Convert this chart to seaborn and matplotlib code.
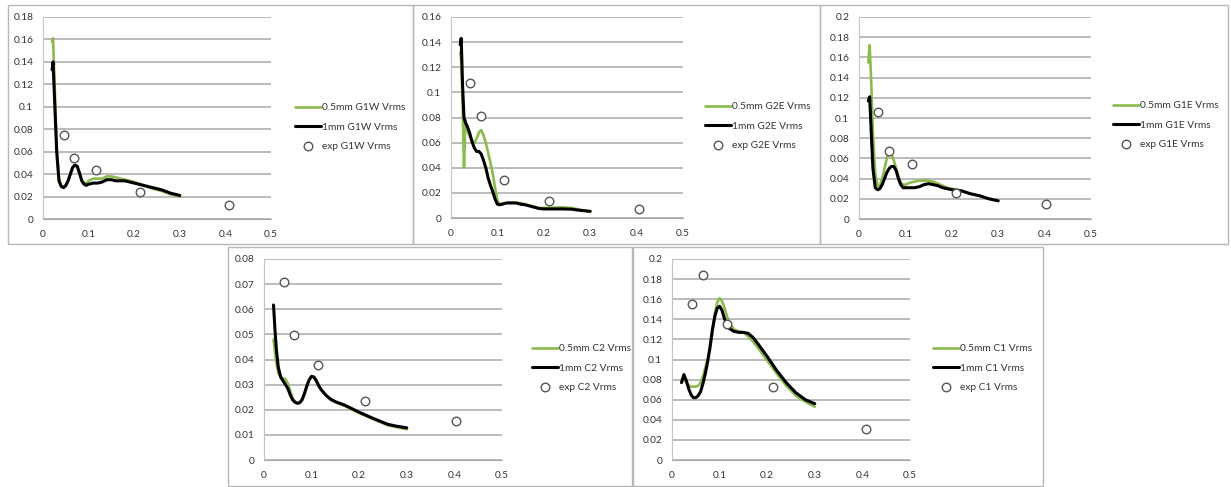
import numpy as np
import pandas as pd
import seaborn as sns
import matplotlib.pyplot as plt
from matplotlib.patches import Rectangle
from matplotlib.ticker import FuncFormatter, MultipleLocator

# ---- data ----
# G1W
g1w_x = [0.020, 0.022, 0.026, 0.030, 0.035, 0.040, 0.045, 0.050, 0.055, 0.060,
         0.065, 0.070, 0.075, 0.080, 0.085, 0.090, 0.095, 0.100, 0.110, 0.120,
         0.130, 0.140, 0.150, 0.160, 0.170, 0.180, 0.190, 0.200, 0.220, 0.240,
         0.260, 0.280, 0.300]
g1w_fine = [0.158, 0.161, 0.115, 0.065, 0.036, 0.030, 0.028, 0.029, 0.034, 0.040,
            0.046, 0.048, 0.047, 0.041, 0.035, 0.032, 0.032, 0.034, 0.036, 0.036,
            0.036, 0.038, 0.038, 0.037, 0.036, 0.035, 0.034, 0.033, 0.030, 0.027,
            0.025, 0.022, 0.020]
g1w_coarse = [0.133, 0.140, 0.100, 0.060, 0.034, 0.029, 0.028, 0.030, 0.034, 0.040,
              0.046, 0.048, 0.047, 0.041, 0.034, 0.031, 0.030, 0.031, 0.032, 0.032,
              0.033, 0.035, 0.035, 0.034, 0.034, 0.034, 0.033, 0.032, 0.030, 0.028,
              0.026, 0.023, 0.021]
g1w_exp_x = [0.045, 0.069, 0.117, 0.213, 0.407]
g1w_exp = [0.0748, 0.0548, 0.0438, 0.0241, 0.0125]

# G2E
g2e_x = [0.020, 0.022, 0.025, 0.028, 0.031, 0.035, 0.040, 0.045, 0.050, 0.055,
         0.060, 0.065, 0.070, 0.075, 0.080, 0.085, 0.090, 0.095, 0.100, 0.105,
         0.110, 0.120, 0.130, 0.140, 0.150, 0.160, 0.170, 0.180, 0.190, 0.200,
         0.220, 0.240, 0.260, 0.280, 0.300]
g2e_fine = [0.132, 0.125, 0.090, 0.040, 0.078, 0.070, 0.065, 0.062, 0.060, 0.063,
            0.068, 0.070, 0.066, 0.060, 0.052, 0.044, 0.035, 0.024, 0.014, 0.011,
            0.011, 0.012, 0.012, 0.012, 0.012, 0.011, 0.010, 0.009, 0.008, 0.008,
            0.0082, 0.0085, 0.008, 0.0065, 0.0053]
g2e_coarse = [0.138, 0.143, 0.105, 0.080, 0.076, 0.073, 0.068, 0.061, 0.056, 0.053,
              0.053, 0.051, 0.046, 0.040, 0.032, 0.026, 0.021, 0.015, 0.011, 0.0105,
              0.011, 0.012, 0.012, 0.012, 0.011, 0.0105, 0.0095, 0.0085, 0.0075, 0.0072,
              0.0072, 0.0072, 0.0070, 0.0060, 0.0053]
g2e_exp_x = [0.042, 0.065, 0.115, 0.212, 0.405]
g2e_exp = [0.1075, 0.0808, 0.0299, 0.0138, 0.0072]

# G1E
g1e_x = [0.020, 0.023, 0.026, 0.030, 0.035, 0.040, 0.045, 0.050, 0.055, 0.060,
         0.065, 0.070, 0.075, 0.080, 0.085, 0.090, 0.095, 0.100, 0.110, 0.120,
         0.130, 0.140, 0.150, 0.160, 0.170, 0.180, 0.190, 0.200, 0.220, 0.240,
         0.260, 0.280, 0.300]
g1e_fine = [0.155, 0.172, 0.140, 0.085, 0.045, 0.033, 0.033, 0.040, 0.050, 0.060,
            0.066, 0.064, 0.058, 0.050, 0.042, 0.036, 0.034, 0.034, 0.036, 0.037,
            0.038, 0.038, 0.038, 0.037, 0.035, 0.033, 0.031, 0.030, 0.028, 0.025,
            0.023, 0.020, 0.018]
g1e_coarse = [0.117, 0.121, 0.090, 0.050, 0.031, 0.029, 0.030, 0.034, 0.040, 0.046,
              0.050, 0.052, 0.052, 0.048, 0.040, 0.034, 0.031, 0.031, 0.031, 0.031,
              0.032, 0.034, 0.035, 0.034, 0.033, 0.031, 0.030, 0.029, 0.028, 0.025,
              0.023, 0.020, 0.018]
g1e_exp_x = [0.041, 0.064, 0.114, 0.210, 0.404]
g1e_exp = [0.106, 0.0678, 0.0546, 0.0257, 0.0145]

# C2
c2_x = [0.020, 0.023, 0.026, 0.030, 0.035, 0.040, 0.045, 0.050, 0.055, 0.060,
        0.065, 0.070, 0.075, 0.080, 0.085, 0.090, 0.095, 0.100, 0.105, 0.110,
        0.115, 0.120, 0.130, 0.140, 0.150, 0.170, 0.200, 0.230, 0.260, 0.280,
        0.300]
c2_fine = [0.0480, 0.0430, 0.0385, 0.0345, 0.0332, 0.0325, 0.0322, 0.0305, 0.0275, 0.0248,
           0.0232, 0.0225, 0.0227, 0.0238, 0.0262, 0.0292, 0.0318, 0.0332, 0.0331, 0.0318,
           0.0298, 0.0282, 0.0258, 0.0240, 0.0230, 0.0215, 0.0187, 0.0162, 0.0138, 0.0130,
           0.0122]
c2_coarse = [0.0617, 0.0520, 0.0440, 0.0370, 0.0330, 0.0315, 0.0300, 0.0285, 0.0260, 0.0240,
             0.0230, 0.0226, 0.0228, 0.0240, 0.0265, 0.0295, 0.0320, 0.0333, 0.0330, 0.0315,
             0.0295, 0.0280, 0.0258, 0.0242, 0.0232, 0.0218, 0.0190, 0.0165, 0.0142, 0.0134,
             0.0128]
c2_exp_x = [0.041, 0.063, 0.114, 0.212, 0.404]
c2_exp = [0.0708, 0.0496, 0.0380, 0.0236, 0.0155]

# C1
c1_x = [0.020, 0.025, 0.030, 0.035, 0.040, 0.045, 0.050, 0.055, 0.060, 0.065,
        0.070, 0.075, 0.080, 0.085, 0.090, 0.095, 0.100, 0.105, 0.110, 0.115,
        0.120, 0.130, 0.140, 0.150, 0.160, 0.170, 0.180, 0.200, 0.220, 0.240,
        0.260, 0.280, 0.300]
c1_fine = [0.078, 0.081, 0.077, 0.074, 0.073, 0.073, 0.073, 0.074, 0.077, 0.083,
           0.092, 0.101, 0.110, 0.128, 0.146, 0.157, 0.161, 0.158, 0.152, 0.144,
           0.137, 0.130, 0.128, 0.127, 0.123, 0.118, 0.112, 0.099, 0.086, 0.074,
           0.064, 0.058, 0.053]
c1_coarse = [0.077, 0.085, 0.079, 0.071, 0.065, 0.062, 0.062, 0.064, 0.068, 0.076,
             0.086, 0.098, 0.113, 0.130, 0.143, 0.151, 0.153, 0.149, 0.141, 0.135,
             0.131, 0.128, 0.127, 0.127, 0.126, 0.122, 0.116, 0.103, 0.089, 0.077,
             0.067, 0.060, 0.056]
c1_exp_x = [0.043, 0.066, 0.115, 0.213, 0.407]
c1_exp = [0.1549, 0.1844, 0.1353, 0.0723, 0.0312]

names = ['G1W', 'G2E', 'G1E', 'C2', 'C1']
ymax = [0.18, 0.16, 0.2, 0.08, 0.2]
ystep = [0.02, 0.02, 0.02, 0.01, 0.02]

# ---- layout (pixels in a 1231x487 canvas) ----
W, H = 1231, 487
# axes: left, right, top, bottom
ax_px = [(43, 271, 17, 219), (451, 683, 17, 218), (859, 1091, 17, 219),
         (264, 502, 259, 460), (672, 910, 259, 460)]
# panel frames: left, right, top, bottom
box_px = [(8, 413, 5, 244), (413, 820, 5, 244), (820, 1228, 5, 244),
          (228, 632, 247, 486), (633, 1043, 247, 486)]
# legend: handle left x, middle row y
leg_px = [(295, 127), (705, 126), (1113, 125), (532, 368), (933, 368)]

sns.set_style('white')
plt.rcParams['font.family'] = ['Lato', 'DejaVu Sans']

GREEN = '#8cba4c'
GRID = '#a8a8a8'
TXT = '#333333'

fig = plt.figure(figsize=(W / 100, H / 100), dpi=100)

for (l, r, t, b) in box_px:
    fig.patches.append(Rectangle((l / W, 1 - b / H), (r - l) / W, (b - t) / H,
                                 transform=fig.transFigure, fill=False,
                                 edgecolor='#b8b8b8', lw=1.0))

series = [
    (g1w_x, g1w_fine, g1w_coarse, g1w_exp_x, g1w_exp),
    (g2e_x, g2e_fine, g2e_coarse, g2e_exp_x, g2e_exp),
    (g1e_x, g1e_fine, g1e_coarse, g1e_exp_x, g1e_exp),
    (c2_x, c2_fine, c2_coarse, c2_exp_x, c2_exp),
    (c1_x, c1_fine, c1_coarse, c1_exp_x, c1_exp),
]

fmt = FuncFormatter(lambda v, p: f'{v:.3f}'.rstrip('0').rstrip('.'))

for i, (xs, fine, coarse, ex, ey) in enumerate(series):
    l, r, t, b = ax_px[i]
    ax = fig.add_axes([l / W, 1 - b / H, (r - l) / W, (b - t) / H])
    nm = names[i]

    sns.lineplot(x=xs, y=fine, ax=ax, color=GREEN, lw=1.9, sort=False,
                 label=f'0.5mm {nm} Vrms', zorder=3)
    sns.lineplot(x=xs, y=coarse, ax=ax, color='black', lw=2.2, sort=False,
                 label=f'1mm {nm} Vrms', zorder=4)
    sns.scatterplot(x=ex, y=ey, ax=ax, marker='o', s=38, facecolor='white',
                    edgecolor='#555555', linewidth=1.0, label=f'exp {nm} Vrms',
                    zorder=5)

    ax.set_xlim(0, 0.5)
    ax.set_ylim(0, ymax[i])
    ax.xaxis.set_major_locator(MultipleLocator(0.1))
    ax.yaxis.set_major_locator(MultipleLocator(ystep[i]))
    ax.xaxis.set_major_formatter(fmt)
    ax.yaxis.set_major_formatter(fmt)
    ax.grid(axis='y', color=GRID, lw=1.1)
    ax.grid(axis='x', visible=False)
    ax.set_axisbelow(True)
    for s in ['top', 'right']:
        ax.spines[s].set_visible(False)
    ax.spines['left'].set_color('#c4c4c4')
    ax.spines['bottom'].set_color('#a8a8a8')
    ax.tick_params(axis='both', direction='out', length=3, width=0.8,
                   color='#a8a8a8', labelsize=7.3, labelcolor=TXT)
    ax.tick_params(axis='x', pad=5)
    ax.tick_params(axis='y', pad=4)
    ax.set_xlabel('')
    ax.set_ylabel('')

    lx, ly = leg_px[i]
    ax.legend(loc='center left', bbox_to_anchor=(lx / W, 1 - ly / H),
              bbox_transform=fig.transFigure, frameon=False, fontsize=7.3,
              borderpad=0, borderaxespad=0, handlelength=2.6,
              handletextpad=0.05, labelspacing=1.0, labelcolor=TXT)

fig.savefig('out.png', dpi=100, facecolor='white')
